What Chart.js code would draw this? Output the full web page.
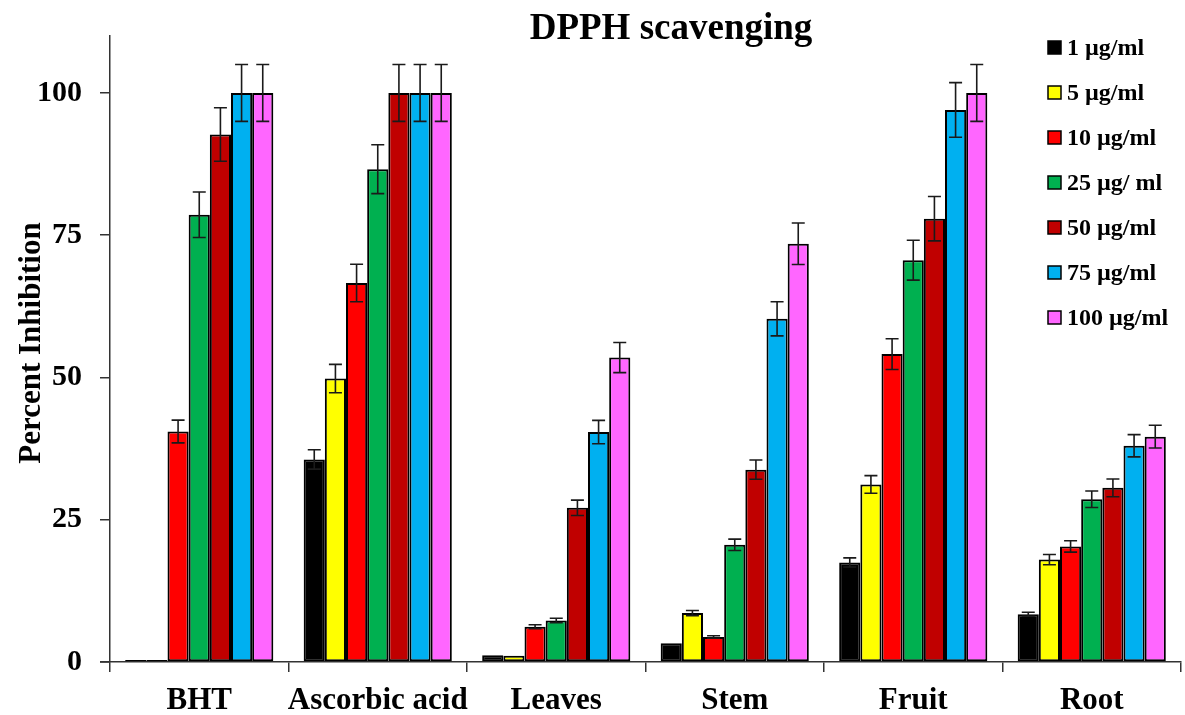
<!DOCTYPE html>
<html>
<head>
<meta charset="utf-8">
<script src="https://cdn.jsdelivr.net/npm/chart.js@4/dist/chart.umd.min.js"></script>
<style>
  html, body { margin: 0; padding: 0; background: #fff; }
  #wrap { width: 1185px; height: 715px; position: relative; }
</style>
</head>
<body>
<div id="wrap"><canvas id="c" width="1185" height="715"></canvas></div>
<script>
const categories = ["BHT", "Ascorbic acid", "Leaves", "Stem", "Fruit", "Root"];
const seriesLabels = ["1 µg/ml", "5 µg/ml", "10 µg/ml", "25 µg/ ml", "50 µg/ml", "75 µg/ml", "100 µg/ml"];
const seriesColors = ["#000000", "#FFFF00", "#FF0000", "#00B050", "#C00000", "#00B0F0", "#FF66FF"];

const v1   = [0.35, 35.6, 1.2, 3.3, 17.5, 8.4];
const v5   = [0.35, 49.8, 1.1, 8.6, 31.2, 18.0];
const v10  = [40.5, 66.6, 6.2, 4.4, 54.1, 20.3];
const v25  = [78.6, 86.6, 7.3, 20.6, 70.6, 28.6];
const v50  = [92.7, 100, 27.1, 33.8, 77.9, 30.6];
const v75  = [100, 100, 40.4, 60.3, 97.0, 38.0];
const v100 = [100, 100, 53.5, 73.5, 100, 39.6];

const e1   = [0, 1.7, 0, 0, 0.8, 0.35];
const e5   = [0, 2.5, 0, 0.45, 1.55, 0.9];
const e10  = [2.0, 3.3, 0.35, 0.2, 2.7, 1.0];
const e25  = [4.0, 4.3, 0.4, 1.0, 3.5, 1.45];
const e50  = [4.7, 5.0, 1.35, 1.7, 3.9, 1.55];
const e75  = [5.0, 5.0, 2.05, 3.0, 4.8, 1.95];
const e100 = [5.0, 5.0, 2.65, 3.65, 5.0, 2.0];

const yTicks = [0, 25, 50, 75, 100];
const chartTitle = "DPPH scavenging";
const yTitle = "Percent Inhibition";

const values = [v1, v5, v10, v25, v50, v75, v100];
const errors = [e1, e5, e10, e25, e50, e75, e100];

const FONT = "'Liberation Serif', 'Times New Roman', serif";

const datasets = values.map((arr, i) => ({
  label: seriesLabels[i],
  data: arr,
  backgroundColor: seriesColors[i],
  borderColor: "#000000",
  borderWidth: 2,
  borderSkipped: false,
  categoryPercentage: 0.83,
  barPercentage: 1.0
}));

const errorBars = {
  id: "errorBars",
  afterDatasetsDraw(chart) {
    const ctx = chart.ctx;
    const y = chart.scales.y;
    ctx.save();
    ctx.strokeStyle = "#1a1a1a";
    ctx.lineWidth = 1.6;
    chart.data.datasets.forEach((ds, di) => {
      const meta = chart.getDatasetMeta(di);
      meta.data.forEach((bar, i) => {
        const err = errors[di][i];
        if (!err) return;
        const v = ds.data[i];
        const yt = y.getPixelForValue(v + err);
        const yb = y.getPixelForValue(v - err);
        const x = bar.x;
        const cw = 6.5;
        ctx.beginPath();
        ctx.moveTo(x, yt); ctx.lineTo(x, yb);
        ctx.moveTo(x - cw, yt); ctx.lineTo(x + cw, yt);
        ctx.moveTo(x - cw, yb); ctx.lineTo(x + cw, yb);
        ctx.stroke();
      });
    });
    ctx.restore();
  }
};

const decorations = {
  id: "decorations",
  afterDraw(chart) {
    const ctx = chart.ctx;
    ctx.save();
    ctx.fillStyle = "#000";
    ctx.font = "bold 37px " + FONT;
    ctx.textAlign = "center";
    ctx.textBaseline = "alphabetic";
    ctx.fillText(chartTitle, 671, 39);
    ctx.save();
    ctx.translate(32, 343);
    ctx.rotate(-Math.PI / 2);
    ctx.font = "bold 31px " + FONT;
    ctx.textAlign = "center";
    ctx.textBaseline = "middle";
    ctx.fillText(yTitle, 0, 0);
    ctx.restore();
    ctx.font = "bold 24px " + FONT;
    ctx.textAlign = "left";
    ctx.textBaseline = "middle";
    seriesLabels.forEach((lab, i) => {
      const cy = 48 + i * 45;
      ctx.fillStyle = seriesColors[i];
      ctx.fillRect(1048, cy - 7, 13, 13);
      ctx.strokeStyle = "#000";
      ctx.lineWidth = 1.5;
      ctx.strokeRect(1048, cy - 7, 13, 13);
      ctx.fillStyle = "#000";
      ctx.fillText(lab, 1067, cy + 1);
    });
    // short extension of x axis to the left of y axis
    const ca = chart.chartArea;
    ctx.strokeStyle = "#333";
    ctx.lineWidth = 1.5;
    ctx.beginPath();
    ctx.moveTo(100, ca.bottom);
    ctx.lineTo(ca.left, ca.bottom);
    ctx.stroke();
    ctx.restore();
  }
};

new Chart(document.getElementById("c"), {
  type: "bar",
  data: { labels: categories, datasets },
  options: {
    responsive: false,
    animation: false,
    devicePixelRatio: 1,
    layout: { padding: { top: 35, right: 4, left: 0, bottom: 0 } },
    plugins: {
      legend: { display: false },
      title: { display: false },
      tooltip: { enabled: false }
    },
    scales: {
      x: {
        grid: { display: true, drawOnChartArea: false, drawTicks: true, tickLength: 10, color: "#333", lineWidth: 1.5, offset: true },
        border: { display: true, color: "#333", width: 1.5 },
        ticks: { color: "#000", font: { family: FONT, size: 31, weight: "bold" }, padding: 10, maxRotation: 0, autoSkip: false },
        afterFit(s) { s.height = 53; }
      },
      y: {
        min: 0,
        max: 110,
        afterBuildTicks(s) { s.ticks = yTicks.map(v => ({ value: v })); },
        grid: { display: true, drawOnChartArea: false, drawTicks: true, tickLength: 10, color: "#333", lineWidth: 1.5 },
        border: { display: true, color: "#333", width: 1.5 },
        ticks: { color: "#000", font: { family: FONT, size: 30, weight: "bold" }, padding: 18 },
        afterFit(s) { s.width = 110; }
      }
    }
  },
  plugins: [errorBars, decorations]
});
</script>
</body>
</html>
